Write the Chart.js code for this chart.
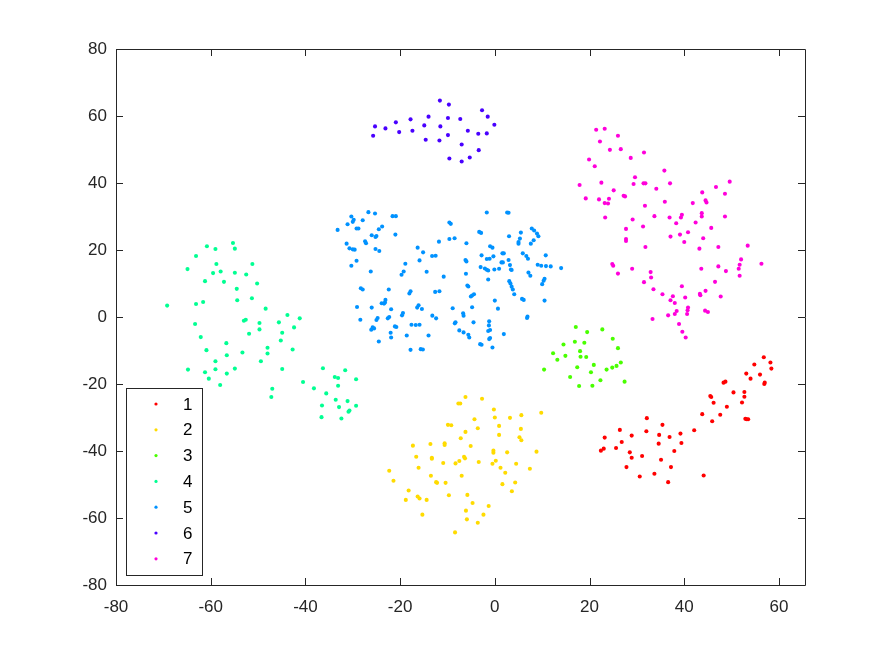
<!DOCTYPE html>
<html><head><meta charset="utf-8">
<script src="https://cdn.jsdelivr.net/npm/chart.js@4/dist/chart.umd.min.js"></script>
<style>html,body{margin:0;padding:0;background:#fff;}canvas{display:block;}</style>
</head><body>
<canvas id="c" width="890" height="657"></canvas>
<script>
const groupLabels = ['1','2','3','4','5','6','7'];
const groupColors = ['#FF0000','#FFDB00','#49FF00','#00FF92','#0092FF','#4900FF','#FF00DB'];
const xTicks = [-80,-60,-40,-20,0,20,40,60];
const yTicks = [-80,-60,-40,-20,0,20,40,60,80];

const group1 = [[56.8,-12.0],[58.2,-13.6],[58.4,-15.4],[54.8,-14.2],[53.1,-16.9],[54.0,-18.4],[56.0,-17.2],[57.0,-19.6],[56.9,-20.0],[48.3,-19.6],[48.7,-19.3],[50.4,-22.5],[52.7,-22.4],[52.7,-23.8],[52.2,-25.5],[45.5,-23.6],[45.7,-23.9],[46.2,-25.6],[49.0,-26.8],[43.8,-29.0],[47.6,-29.2],[45.9,-31.1],[52.9,-30.4],[53.2,-30.5],[53.5,-30.5],[32.1,-30.2],[35.4,-32.2],[32.0,-34.1],[26.4,-33.7],[28.9,-35.4],[34.7,-35.2],[36.9,-35.8],[39.2,-34.8],[42.1,-33.8],[23.2,-36.0],[26.8,-37.3],[34.6,-37.8],[39.4,-37.6],[22.4,-39.9],[23.0,-39.3],[25.6,-39.1],[28.5,-40.4],[28.9,-42.0],[31.1,-41.5],[37.9,-40.0],[35.1,-42.6],[27.8,-44.8],[37.2,-44.8],[30.6,-47.6],[33.7,-46.8],[36.6,-49.3],[44.1,-47.3]];

const group2 = [[-6.2,-23.9],[-2.7,-24.4],[-7.7,-25.8],[-7.3,-25.8],[-0.2,-27.6],[9.8,-28.6],[0.0,-30.0],[3.2,-30.1],[5.6,-29.3],[-4.3,-30.5],[-3.6,-33.2],[-9.9,-32.2],[-9.2,-32.3],[0.9,-32.5],[-6.2,-34.3],[5.5,-33.4],[0.9,-35.2],[-7.2,-36.2],[5.2,-35.9],[5.6,-36.8],[-17.3,-38.4],[-13.6,-37.9],[-10.6,-37.7],[-10.6,-38.2],[-5.1,-38.5],[-0.3,-39.9],[-0.3,-40.5],[2.6,-40.4],[8.8,-40.2],[-16.6,-41.7],[-13.3,-42.0],[-13.3,-42.3],[-6.5,-41.7],[-6.3,-42.2],[-7.5,-43.0],[-8.3,-43.7],[-10.9,-43.6],[-3.4,-43.3],[0.2,-42.9],[-0.5,-43.8],[4.5,-43.8],[-16.1,-45.0],[1.2,-45.0],[7.4,-45.3],[-22.3,-45.9],[-13.5,-47.4],[-7.0,-47.4],[2.2,-46.5],[-21.4,-48.9],[-12.4,-49.3],[-12.2,-49.5],[-10.4,-49.5],[1.6,-49.9],[4.3,-49.4],[-18.2,-51.8],[3.6,-52.0],[-16.3,-53.6],[-15.9,-54.2],[-14.4,-54.6],[-18.8,-54.6],[-9.7,-53.2],[-5.8,-53.1],[-4.7,-55.5],[-1.3,-56.4],[-6.1,-57.8],[-15.3,-59.0],[-2.4,-59.0],[-5.9,-60.4],[-3.6,-61.4],[-8.4,-64.3]];

const group3 = [[17.1,-3.0],[19.5,-4.5],[22.7,-3.7],[24.9,-6.5],[26.0,-9.3],[14.5,-8.2],[16.9,-7.4],[18.9,-7.7],[12.3,-10.8],[14.9,-11.6],[18.0,-10.2],[18.1,-11.85],[19.3,-11.95],[13.2,-12.75],[10.4,-15.7],[17.4,-15.0],[20.9,-14.3],[23.6,-15.7],[24.8,-15.1],[25.7,-14.6],[26.6,-13.6],[20.3,-16.5],[15.9,-17.9],[17.8,-20.6],[20.6,-20.5],[22.3,-18.9],[27.4,-19.3]];

const group4 = [[-55.3,22.1],[-60.8,21.1],[-59.0,20.3],[-54.9,20.4],[-63.1,18.2],[-58.8,15.8],[-51.2,15.8],[-64.9,14.3],[-59.5,13.1],[-57.9,13.6],[-54.9,13.2],[-52.5,12.7],[-61.2,10.7],[-57.2,10.5],[-50.2,10.0],[-54.5,8.4],[-51.3,5.6],[-54.4,5.0],[-69.2,3.4],[-63.1,3.9],[-61.6,4.5],[-48.4,2.5],[-43.8,0.6],[-41.2,-0.4],[-53.0,-1.1],[-52.6,-0.8],[-49.7,-1.8],[-45.6,-1.6],[-63.3,-2.1],[-49.7,-3.7],[-42.4,-3.1],[-51.9,-5.0],[-44.9,-4.7],[-62.1,-6.0],[-45.2,-7.0],[-56.7,-7.8],[-48.0,-9.2],[-60.9,-9.9],[-56.6,-11.4],[-53.3,-10.6],[-48.0,-10.9],[-42.7,-9.7],[-59.0,-13.2],[-49.4,-13.2],[-64.8,-15.7],[-61.2,-16.5],[-59.0,-15.6],[-54.9,-15.4],[-44.9,-15.5],[-56.6,-16.9],[-60.4,-18.4],[-58.0,-20.3],[-47.0,-21.4],[-47.2,-23.9],[-36.3,-15.3],[-31.6,-15.9],[-33.8,-17.9],[-33.1,-18.2],[-29.3,-18.6],[-40.5,-19.4],[-38.2,-21.3],[-33.1,-20.5],[-35.6,-22.8],[-33.6,-24.7],[-31.1,-25.1],[-36.5,-26.4],[-32.9,-26.9],[-30.7,-27.9],[-29.3,-26.5],[-30.9,-28.3],[-36.6,-29.9],[-32.4,-30.3]];

const group5 = [[-26.7,31.3],[-25.3,30.9],[-30.3,30.0],[-29.8,29.0],[-30.0,28.4],[-27.9,28.9],[-21.6,30.1],[-20.9,30.1],[-31.1,27.7],[-33.2,26.0],[-29.2,26.4],[-28.8,26.4],[-23.8,27.0],[-24.5,26.2],[-26.0,24.4],[-25.0,24.2],[-25.2,23.9],[-21.0,24.6],[-27.4,22.6],[-27.2,22.0],[-31.3,21.9],[-30.7,20.5],[-30.0,20.2],[-29.6,20.1],[-25.2,20.3],[-24.4,19.7],[-16.3,20.7],[-15.15,19.3],[-13.25,18.2],[-12.5,18.3],[-11.8,22.5],[-15.9,16.9],[-29.2,16.8],[-30.3,15.3],[-18.9,15.9],[-26.2,13.6],[-19.25,13.6],[-19.7,12.6],[-14.4,13.5],[-28.3,8.6],[-27.9,8.2],[-22.4,8.2],[-17.8,7.7],[-18.05,7.0],[-12.6,7.5],[-11.7,7.7],[-29.1,3.0],[-26.0,2.8],[-23.9,4.1],[-23.4,4.0],[-23.1,5.1],[-23.2,4.3],[-21.9,2.3],[-16.1,3.5],[-16.4,2.8],[-15.4,2.4],[-19.4,1.2],[-19.6,0.5],[-28.4,-0.8],[-24.75,-0.3],[-25.0,-0.9],[-22.3,0.0],[-22.6,-0.4],[-13.2,0.4],[-12.4,-0.4],[-25.8,-3.1],[-25.5,-3.4],[-26.1,-3.8],[-21.1,-2.8],[-20.8,-3.0],[-17.6,-2.3],[-16.7,-2.4],[-15.9,-2.3],[-22.0,-4.7],[-21.9,-6.1],[-18.6,-5.5],[-14.0,-5.5],[-24.5,-7.3],[-17.8,-9.8],[-15.65,-9.6],[-15.2,-9.7],
[-1.7,31.2],[2.6,31.2],[2.9,31.1],[-9.6,28.2],[-9.3,27.8],[-3.3,25.4],[-2.9,25.1],[-9.6,23.3],[-8.5,23.5],[-6.0,22.0],[3.0,24.1],[5.5,25.2],[7.8,26.4],[8.3,25.8],[8.9,24.9],[9.2,24.1],[8.2,22.9],[7.6,21.9],[5.0,22.4],[5.3,23.4],[5.0,21.9],[-1.0,21.1],[-0.5,20.7],[-2.8,18.4],[1.6,19.0],[1.9,19.0],[-0.3,18.1],[-6.2,17.0],[-6.0,16.6],[-1.7,17.3],[-1.1,17.4],[-3.0,14.9],[-2.1,14.5],[-1.7,14.1],[-1.4,13.9],[-0.1,14.2],[0.9,14.4],[1.4,16.3],[1.7,16.3],[2.9,17.0],[3.2,15.5],[3.4,14.2],[3.55,14.05],[5.9,19.0],[6.65,18.2],[7.0,17.4],[10.75,18.4],[9.05,15.6],[9.8,15.3],[10.8,15.2],[11.8,15.1],[14.0,14.6],[-6.1,12.9],[-10.8,12.05],[7.1,13.25],[7.5,12.3],[-1.4,11.2],[3.05,10.7],[3.3,10.0],[3.55,9.06],[3.8,8.2],[4.1,6.8],[10.5,11.4],[10.3,10.8],[10.0,9.8],[-5.8,9.4],[-5.6,9.1],[-5.06,6.1],[-4.8,6.4],[-4.4,6.8],[0.0,4.9],[5.74,5.4],[6.1,5.1],[10.5,4.9],[-8.9,2.6],[-4.8,2.9],[0.66,2.5],[-6.7,1.1],[-6.6,0.4],[-8.3,-1.6],[-8.45,-1.9],[-4.5,-1.6],[6.9,0.1],[6.8,-0.3],[-1.2,-1.3],[-1.25,-2.5],[-1.0,-3.9],[-1.4,-4.2],[-7.5,-4.0],[-6.6,-4.6],[-5.6,-5.3],[-5.4,-6.1],[1.9,-5.1],[-3.1,-8.1],[-2.8,-8.3],[-1.0,-6.3],[-1.2,-6.6],[-0.5,-9.1]];

const group6 = [[-11.6,64.6],[-9.7,63.4],[-25.3,56.9],[-23.1,56.3],[-20.9,58.1],[-17.8,59.0],[-14.0,59.8],[-9.9,59.4],[-7.3,59.1],[-2.7,61.7],[-1.5,59.8],[-0.1,57.4],[-25.7,54.1],[-20.2,55.2],[-17.4,55.6],[-14.9,57.2],[-11.5,56.9],[-5.7,55.6],[-3.5,54.7],[-1.7,54.8],[-14.6,52.9],[-11.7,52.7],[-9.9,54.3],[-7.0,51.5],[-3.4,49.8],[-9.6,47.3],[-7.0,46.4],[-5.3,47.6]];

const group7 = [[21.4,55.9],[23.2,56.2],[26.0,54.1],[22.2,52.4],[24.3,49.9],[26.6,50.1],[31.5,49.1],[28.7,47.5],[19.9,47.0],[21.1,45.0],[35.8,43.7],[29.6,41.7],[17.9,39.4],[22.5,40.1],[29.3,39.7],[31.4,39.9],[31.8,39.9],[37.0,39.9],[49.6,40.4],[25.1,37.8],[34.1,38.3],[46.7,38.8],[19.2,35.4],[22.0,35.1],[24.1,35.3],[23.2,34.0],[23.9,33.9],[27.2,36.2],[27.5,36.0],[43.8,37.2],[48.6,36.8],[31.7,33.2],[35.9,34.4],[41.8,34.0],[44.5,34.8],[44.7,34.2],[23.3,29.7],[29.1,29.1],[33.7,30.1],[36.9,29.7],[39.5,30.5],[39.3,29.7],[38.3,28.0],[42.4,28.2],[43.7,31.0],[43.7,30.0],[48.6,30.0],[31.3,27.0],[27.7,26.3],[45.7,26.6],
[27.7,23.3],[27.7,22.7],[37.1,24.0],[39.1,24.6],[40.8,25.3],[40.0,22.4],[44.0,23.5],[31.8,20.9],[43.2,20.4],[47.2,20.9],[53.4,21.3],[52.0,17.2],[51.7,15.6],[51.5,14.4],[51.7,12.3],[56.3,15.9],[24.8,15.8],[25.0,15.3],[29.0,14.4],[26.0,12.95],[32.9,13.4],[33.0,11.8],[43.6,14.4],[47.2,15.1],[48.8,13.7],[31.5,10.4],[33.5,8.3],[35.4,6.8],[39.5,9.2],[37.6,6.2],[37.1,5.0],[38.0,4.2],[40.2,5.8],[40.8,2.8],[40.7,2.0],[40.6,0.9],[38.4,1.8],[38.0,0.9],[36.6,0.5],[43.3,6.9],[43.4,6.5],[44.5,7.8],[46.5,10.5],[47.7,6.1],[44.4,1.9],[45.0,1.5],[33.3,-0.6],[38.9,-2.1],[39.6,-4.4],[40.3,-6.1]];

const groups = [group1, group2, group3, group4, group5, group6, group7];

const axisColor = '#262626';
const fontFamily = '"Liberation Sans", Arial, Helvetica, sans-serif';
const fontSize = 17;

const frameAndTicks = {
  id: 'frameAndTicks',
  afterDraw(chart) {
    const ctx = chart.ctx, a = chart.chartArea;
    const tl = 7;
    ctx.save();
    ctx.strokeStyle = axisColor;
    ctx.lineWidth = 1;
    ctx.beginPath();
    ctx.rect(Math.round(a.left) + 0.5, Math.round(a.top) + 0.5, Math.round(a.right - a.left), Math.round(a.bottom - a.top));
    ctx.stroke();
    const xs = chart.scales.x, ys = chart.scales.y;
    ctx.beginPath();
    xs.ticks.forEach(t => {
      const p = Math.round(xs.getPixelForValue(t.value)) + 0.5;
      ctx.moveTo(p, a.bottom); ctx.lineTo(p, a.bottom - tl);
      ctx.moveTo(p, a.top); ctx.lineTo(p, a.top + tl);
    });
    ys.ticks.forEach(t => {
      const p = Math.round(ys.getPixelForValue(t.value)) + 0.5;
      ctx.moveTo(a.left, p); ctx.lineTo(a.left + tl, p);
      ctx.moveTo(a.right, p); ctx.lineTo(a.right - tl, p);
    });
    ctx.stroke();
    ctx.restore();
  }
};

const legendBox = {left: 126, top: 388, width: 76, height: 187, firstRow: 404, rowStep: 25.8, markerX: 156, textX: 183};
const boxLegend = {
  id: 'boxLegend',
  afterDraw(chart) {
    const ctx = chart.ctx, L = legendBox;
    ctx.save();
    ctx.fillStyle = '#fff';
    ctx.fillRect(L.left, L.top, L.width, L.height);
    ctx.strokeStyle = axisColor;
    ctx.lineWidth = 1;
    ctx.strokeRect(L.left + 0.5, L.top + 0.5, L.width, L.height);
    ctx.font = fontSize + 'px ' + fontFamily;
    ctx.textBaseline = 'middle';
    ctx.textAlign = 'left';
    chart.data.datasets.forEach((ds, i) => {
      const y = L.firstRow + i * L.rowStep;
      ctx.fillStyle = ds.backgroundColor;
      ctx.beginPath();
      ctx.arc(L.markerX, y, 1.6, 0, Math.PI * 2);
      ctx.fill();
      ctx.fillStyle = '#000';
      ctx.fillText(ds.label, L.textX, y + 1);
    });
    ctx.restore();
  }
};

new Chart(document.getElementById('c'), {
  type: 'scatter',
  data: {
    datasets: groups.map((g, i) => ({
      label: groupLabels[i],
      data: g.map(p => ({x: p[0], y: p[1]})),
      backgroundColor: groupColors[i],
      borderColor: groupColors[i],
      borderWidth: 0,
      pointRadius: 2.05,
      pointHoverRadius: 2.05,
      order: i
    }))
  },
  options: {
    responsive: false,
    devicePixelRatio: 1,
    animation: false,
    events: [],
    layout: {padding: {left: 0, top: 49, right: 85, bottom: 0}},
    plugins: {legend: {display: false}, tooltip: {enabled: false}},
    scales: {
      x: {
        type: 'linear', min: -80, max: 65.5,
        afterBuildTicks: s => { s.ticks = xTicks.map(v => ({value: v})); },
        afterFit: s => { s.height = 72; },
        grid: {display: false, drawTicks: false},
        border: {display: false},
        ticks: {color: axisColor, font: {family: fontFamily, size: fontSize}, padding: 12, maxRotation: 0}
      },
      y: {
        type: 'linear', min: -80, max: 80,
        afterBuildTicks: s => { s.ticks = yTicks.map(v => ({value: v})); },
        afterFit: s => { s.width = 116; },
        grid: {display: false, drawTicks: false},
        border: {display: false},
        ticks: {color: axisColor, font: {family: fontFamily, size: fontSize}, padding: 9}
      }
    }
  },
  plugins: [frameAndTicks, boxLegend]
});
</script>
</body></html>
